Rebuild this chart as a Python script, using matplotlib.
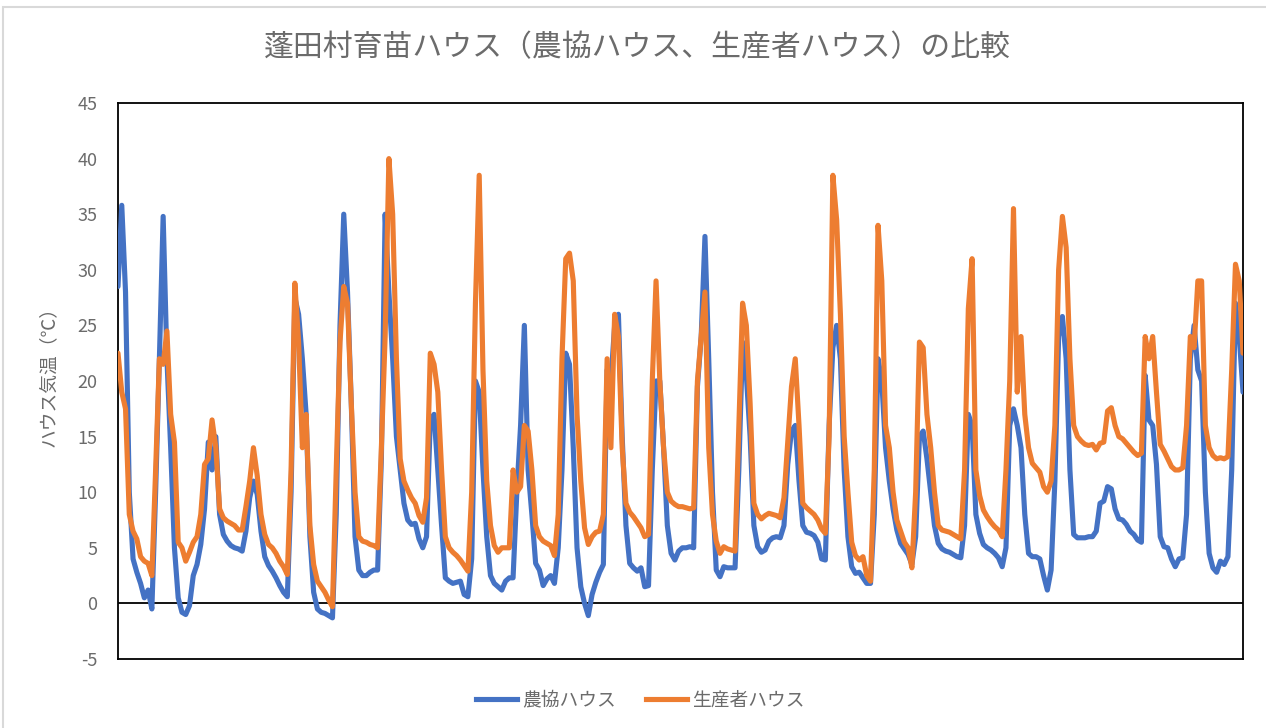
import numpy as np
import matplotlib
matplotlib.use("Agg")
import matplotlib.pyplot as plt
from matplotlib.lines import Line2D
from matplotlib.patches import Rectangle

plt.rcParams['font.family'] = ['Noto Sans CJK JP', 'DejaVu Sans']

title = "蓬田村育苗ハウス（農協ハウス、生産者ハウス）の比較"
ylabel = "ハウス気温（℃）"
series_names = ["農協ハウス", "生産者ハウス"]
yticks = [-5, 0, 5, 10, 15, 20, 25, 30, 35, 40, 45]

# 2-hourly readings, each row = one day starting at noon
nokyo = [
    28.5, 35.8, 28, 10, 4, 2.8, 1.8, 0.5, 1.2, -0.5, 10, 22,
    34.8, 22, 14, 5, 0.5, -0.8, -1, -0.2, 2.5, 3.5, 5.3, 8.5,
    14.5, 12, 15, 8, 6.2, 5.6, 5.2, 5.0, 4.9, 4.7, 6.5, 9.5,
    11, 9.8, 6.5, 4.2, 3.4, 2.9, 2.3, 1.6, 1.0, 0.6, 10, 27.5,
    26, 22, 17, 6, 1, -0.5, -0.8, -0.9, -1.1, -1.3, 8, 25,
    35, 28, 18, 6, 3, 2.5, 2.5, 2.8, 3.0, 3.0, 13, 35,
    28, 22, 15, 12, 9, 7.5, 7.1, 7.2, 5.8, 5.0, 6.0, 16.5,
    17, 12, 7, 2.3, 2.0, 1.8, 1.9, 2.0, 0.8, 0.6, 4, 20,
    19, 12, 6, 2.5, 1.8, 1.5, 1.2, 2.0, 2.3, 2.3, 10, 16,
    25, 12, 8, 3.6, 3.0, 1.6, 2.2, 2.5, 1.8, 5, 12, 22.5,
    21.5, 14, 5, 1.5, 0, -1.1, 0.8, 1.9, 2.8, 3.5, 21, 20,
    25, 26, 15, 7, 3.6, 3.2, 2.9, 3.2, 1.5, 1.6, 12, 20,
    20, 14, 7, 4.5, 3.9, 4.7, 5.0, 5.0, 5.1, 5.0, 19.5, 24,
    33, 22, 10, 3.0, 2.4, 3.3, 3.2, 3.2, 3.2, 12, 23.5, 20.5,
    15, 7, 5.1, 4.6, 4.8, 5.6, 5.9, 6.0, 5.9, 7, 12.5, 15.5,
    16, 11, 7, 6.4, 6.3, 6.1, 5.5, 4.0, 3.9, 16, 23, 25,
    22, 12, 6, 3.3, 2.7, 2.8, 2.3, 1.8, 1.8, 8, 22, 20,
    14, 11, 8.5, 6.6, 5.4, 4.9, 4.4, 3.5, 6, 15, 15.5, 13,
    10, 7, 5.4, 4.9, 4.7, 4.6, 4.4, 4.2, 4.1, 7, 17, 16,
    8, 6.3, 5.3, 5.0, 4.8, 4.5, 4.1, 3.3, 5, 16, 17.5, 16,
    14, 8, 4.5, 4.2, 4.2, 4.0, 2.5, 1.2, 3, 11, 24, 25.8,
    22, 12, 6.2, 5.9, 5.9, 5.9, 6.0, 6.0, 6.5, 9, 9.2, 10.5,
    10.3, 8.5, 7.6, 7.5, 7.1, 6.5, 6.2, 5.7, 5.5, 20.5, 16.5, 16,
    12.5, 6, 5.1, 5.0, 4.0, 3.3, 4.0, 4.1, 8, 22, 25, 21,
    20, 10, 4.5, 3.2, 2.8, 3.8, 3.5, 4.2, 12, 27, 24, 19,
]

seisansha = [
    22.5, 19, 17.5, 8, 6.5, 5.8, 4.2, 3.8, 3.6, 2.5, 12, 22,
    21.5, 24.5, 17, 14.5, 5.5, 5.0, 3.8, 4.6, 5.5, 6.0, 8, 12.5,
    13, 16.5, 14, 8.5, 7.7, 7.4, 7.2, 7.0, 6.6, 6.6, 8.7, 11,
    14, 11.5, 8, 6.2, 5.3, 5.0, 4.5, 3.8, 3.3, 2.6, 12, 28.8,
    23.5, 14, 17, 7, 3.5, 2, 1.5, 1.0, 0.3, -0.3, 12, 23.5,
    28.5, 27, 18, 10, 6, 5.6, 5.5, 5.3, 5.2, 5.0, 14, 24,
    40, 35, 22, 13, 11, 10.2, 9.5, 9.0, 7.9, 7.3, 9.5, 22.5,
    21.5, 19, 12, 6, 5.0, 4.6, 4.3, 3.9, 3.4, 2.9, 10, 27,
    38.5, 21, 11, 7, 5.2, 4.6, 5.0, 5.0, 5.0, 12, 10, 10.5,
    16, 15.5, 12, 7, 6, 5.6, 5.4, 5.2, 4.3, 8, 22, 31,
    31.5, 29, 17, 11, 6.8, 5.3, 6.0, 6.4, 6.5, 8, 22, 14,
    26, 24, 14, 9, 8.2, 7.8, 7.3, 6.8, 6.0, 6.2, 20, 29,
    20, 14, 10, 9.2, 8.9, 8.7, 8.7, 8.6, 8.5, 8.6, 20, 24,
    28, 14, 8, 5.6, 4.5, 5.1, 4.9, 4.8, 4.7, 16, 27, 25,
    18, 9, 8.0, 7.6, 7.9, 8.1, 8.0, 7.9, 7.7, 9.5, 14.5, 19.5,
    22, 16, 9, 8.6, 8.3, 8.0, 7.5, 6.7, 6.3, 15, 38.5, 34.5,
    26, 15, 10, 5.5, 4.3, 3.9, 4.2, 2.5, 2.0, 12, 34, 29,
    16, 14, 10, 7.5, 6.5, 5.5, 5.0, 3.2, 10, 23.5, 23, 17,
    14, 10, 7.0, 6.6, 6.5, 6.4, 6.2, 6.0, 5.8, 12, 26.5, 31,
    12, 9.7, 8.4, 7.8, 7.3, 6.9, 6.6, 6.0, 12, 20, 35.5, 19,
    24, 17, 14, 12.6, 12.2, 11.8, 10.5, 10.0, 11, 16, 30, 34.8,
    32, 22, 16, 15, 14.6, 14.3, 14.2, 14.3, 13.8, 14.4, 14.5, 17.3,
    17.6, 16, 15, 14.8, 14.4, 14.0, 13.6, 13.3, 13.5, 24, 22, 24,
    19, 14.3, 13.7, 13, 12.3, 12.0, 12.0, 12.2, 16, 24, 23, 29,
    29, 16, 14, 13.3, 13.0, 13.1, 13.0, 13.2, 21, 30.5, 29, 22.5,
]

hours = np.arange(len(nokyo)) * 2

BLUE = "#4472C4"
ORANGE = "#ED7D31"
GRAY = "#6B6B6B"

W, H = 1266, 728
fig = plt.figure(figsize=(W / 100, H / 100), dpi=100)
fig.patch.set_facecolor("white")

# outer chart-area border
fig.add_artist(Rectangle((3 / W, -0.01), 1.05, (H - 7) / H + 0.01,
                         transform=fig.transFigure, fill=False,
                         edgecolor="#D9D9D9", lw=1.5))

ax = fig.add_axes([118 / W, 1 - 659 / H, (1243 - 118) / W, (659 - 103) / H])

LW = 3.7
ax.plot(hours, nokyo, color=BLUE, lw=LW, solid_joinstyle="round",
        solid_capstyle="round", zorder=3)
ax.plot(hours, seisansha, color=ORANGE, lw=LW, solid_joinstyle="round",
        solid_capstyle="round", zorder=4)

ax.axhline(0, color="black", lw=1.3, zorder=2)

ax.set_xlim(hours[0], hours[-1])
ax.set_ylim(-5, 45)
ax.set_yticks(yticks)
ax.set_yticklabels([str(t) for t in yticks])
ax.set_xticks([])
ax.tick_params(axis="y", length=0, pad=15, labelsize=13, labelcolor=GRAY)
for s in ax.spines.values():
    s.set_color("black")
    s.set_linewidth(1.3)

fig.text(48 / W, 1 - 372 / H, ylabel, rotation=90, ha="center", va="center",
         fontsize=13.5, color=GRAY)

fig.text(637 / W, 1 - 48 / H, title, ha="center", va="center",
         fontsize=21.5, color=GRAY)

handles = [Line2D([], [], color=BLUE, lw=LW),
           Line2D([], [], color=ORANGE, lw=LW)]
fig.legend(handles, series_names, loc="center", ncol=2,
           bbox_to_anchor=(640 / W, 1 - 700 / H), frameon=False,
           fontsize=13.5, labelcolor=GRAY, handlelength=2.2,
           handletextpad=0.25, columnspacing=1.6)

fig.savefig("out.png", dpi=100, facecolor="white")
